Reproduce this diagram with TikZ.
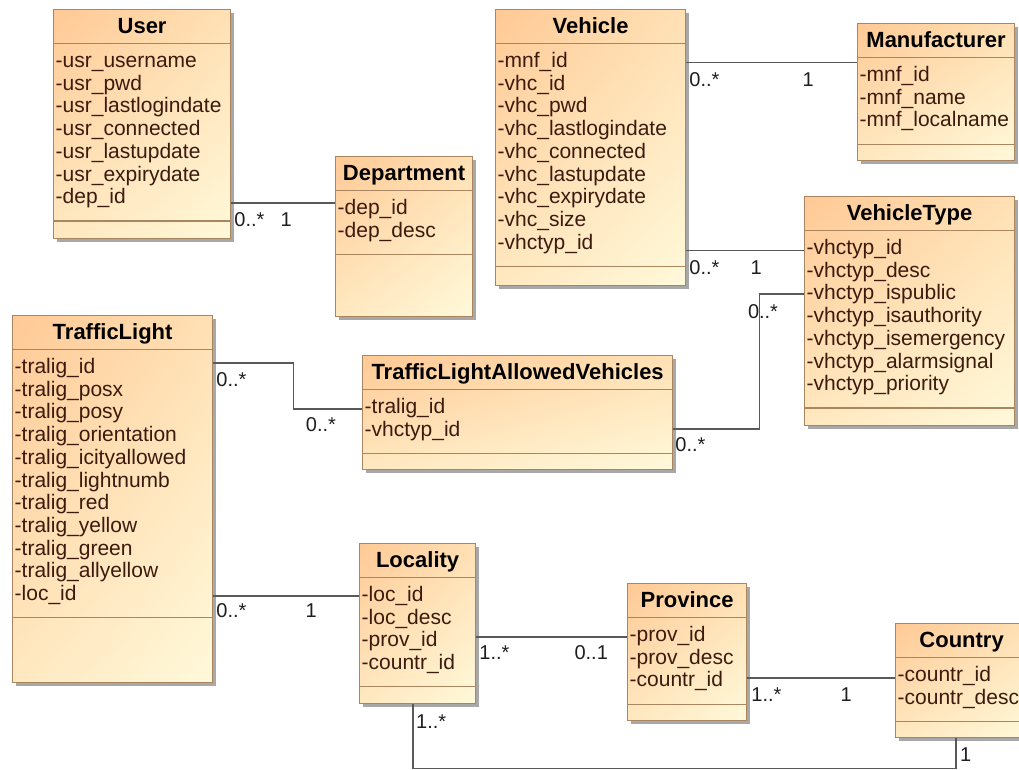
\documentclass[tikz,border=0pt]{standalone}
\usepackage{fontspec}
\setmainfont{Liberation Sans}
\usetikzlibrary{calc,shadows,shadings}

\definecolor{boxline}{HTML}{A9865F}
\definecolor{shadeA}{HTML}{FFC995}
\definecolor{shadeB}{HTML}{FFE0B4}
\definecolor{shadeC}{HTML}{FFE8C0}
\definecolor{shadeD}{HTML}{FFF9DA}
\definecolor{attrtext}{HTML}{3C1A0E}
\definecolor{linkline}{HTML}{595959}
\definecolor{multtext}{HTML}{1E1E1E}
\definecolor{dropcol}{HTML}{A8A8A8}

\tikzset{
  classbox/.style={draw=boxline, line width=1.2pt, anchor=north west, inner sep=0pt,
    shade, upper left=shadeA, upper right=shadeB, lower left=shadeC, lower right=shadeD,
    drop shadow={shadow xshift=3.5pt, shadow yshift=-3.5pt, fill=dropcol, opacity=1}},
  ttl/.style={font=\fontsize{22}{24}\selectfont\bfseries, text=black, inner sep=0pt, anchor=base},
  attr/.style={font=\fontsize{21}{23}\selectfont, text=attrtext, inner sep=0pt, anchor=base west},
  mult/.style={font=\fontsize{20}{22}\selectfont, text=multtext, inner sep=0pt},
  compsep/.style={draw=boxline, line width=1.2pt},
  assoc/.style={draw=linkline, line width=1.4pt},
}

% UML class: name, left, top, width, height, title, number of attributes, attributes
\newcommand\umlbox[8]{%
  \node[classbox, minimum width=#4pt, minimum height=#5pt] (#1) at (#2,#3) {};
  \draw[compsep] ([yshift=-34.5pt]#1.north west) -- ([yshift=-34.5pt]#1.north east);
  \pgfmathsetmacro\opsep{34.5+22.7*#7+18.5}
  \draw[compsep] ([yshift=-\opsep pt]#1.north west) -- ([yshift=-\opsep pt]#1.north east);
  \node[ttl] (#1-title) at ([yshift=-24.5pt]#1.north) {#6};
  \foreach \a [count=\i] in {#8} {
    \pgfmathsetmacro\ybase{58.5+22.7*(\i-1)}
    \node[attr] (#1-attr\i) at ([xshift=2.5pt, yshift=-\ybase pt]#1.north west) {\a};
  }
}

\begin{document}
\begin{tikzpicture}[x=1pt, y=-1pt]
\useasboundingbox (0,0) rectangle (1019,769);
\fill[white] (0,0) rectangle (1019,769);
\clip (0,0) rectangle (1019,769);

% classes
\umlbox{user}{53}{9}{177}{229}{User}{7}{-usr\_username,-usr\_pwd,-usr\_lastlogindate,-usr\_connected,-usr\_lastupdate,-usr\_expirydate,-dep\_id}
\umlbox{dept}{335}{156}{137}{160}{Department}{2}{-dep\_id,-dep\_desc}
\umlbox{vehicle}{495}{9}{190}{276}{Vehicle}{9}{-mnf\_id,-vhc\_id,-vhc\_pwd,-vhc\_lastlogindate,-vhc\_connected,-vhc\_lastupdate,-vhc\_expirydate,-vhc\_size,-vhctyp\_id}
\umlbox{manuf}{857}{23}{157}{137}{Manufacturer}{3}{-mnf\_id,-mnf\_name,-mnf\_localname}
\umlbox{vtype}{804}{196}{210}{229}{VehicleType}{7}{-vhctyp\_id,-vhctyp\_desc,-vhctyp\_ispublic,-vhctyp\_isauthority,-vhctyp\_isemergency,-vhctyp\_alarmsignal,-vhctyp\_priority}
\umlbox{tlav}{362}{355}{310}{114}{TrafficLightAllowedVehicles}{2}{-tralig\_id,-vhctyp\_id}
\umlbox{tlight}{12}{315}{200}{367}{TrafficLight}{11}{-tralig\_id,-tralig\_posx,-tralig\_posy,-tralig\_orientation,-tralig\_icityallowed,-tralig\_lightnumb,-tralig\_red,-tralig\_yellow,-tralig\_green,-tralig\_allyellow,-loc\_id}
\umlbox{locality}{359}{543}{116}{160}{Locality}{4}{-loc\_id,-loc\_desc,-prov\_id,-countr\_id}
\umlbox{province}{627}{583}{119}{137}{Province}{3}{-prov\_id,-prov\_desc,-countr\_id}
\umlbox{country}{895}{623}{132}{114}{Country}{2}{-countr\_id,-countr\_desc}

% association end points
\coordinate (c1) at ([yshift=-194pt]user.north east);
\coordinate (c2) at ([yshift=-53.7pt]vehicle.north east);
\coordinate (c3) at ([yshift=-241.7pt]vehicle.north east);
\coordinate (c4) at ([yshift=-74pt]tlav.north east);
\coordinate (c4b) at ([yshift=-98pt]vtype.north west);
\coordinate (c5) at ([yshift=-48pt]tlight.north east);
\coordinate (c5b) at ([yshift=-54pt]tlav.north west);
\coordinate (c6) at ([yshift=-281pt]tlight.north east);
\coordinate (c7) at ([yshift=-94pt]locality.north east);
\coordinate (c8) at ([yshift=-95pt]province.north east);
\coordinate (c9) at ([xshift=54pt]locality.south west);
\coordinate (c9b) at ([xshift=61pt]country.south west);

% associations
\draw[assoc] (c1) -- (c1 -| dept.west);
\draw[assoc] (c2) -- (c2 -| manuf.west);
\draw[assoc] (c3) -- (c3 -| vtype.west);
\draw[assoc] (c4) -- ++(86pt,0pt) |- (c4b);
\draw[assoc] (c5) -- ++(80pt,0pt) |- (c5b);
\draw[assoc] (c6) -- (c6 -| locality.west);
\draw[assoc] (c7) -- (c7 -| province.west);
\draw[assoc] (c8) -- (c8 -| country.west);
\draw[assoc] (c9) -- ++(0pt,-64pt) -| (c9b);

% multiplicities
\node[mult, anchor=west] (m1a) at ([shift={(3pt,-17pt)}]c1) {0..*};
\node[mult] (m1b) at ([shift={(55pt,-17pt)}]c1) {1};
\node[mult, anchor=west] (m2a) at ([shift={(3pt,-16.5pt)}]c2) {0..*};
\node[mult] (m2b) at ([shift={(122pt,-16.5pt)}]c2) {1};
\node[mult, anchor=west] (m3a) at ([shift={(3pt,-16.5pt)}]c3) {0..*};
\node[mult] (m3b) at ([shift={(70pt,-16.5pt)}]c3) {1};
\node[mult, anchor=west] (m4a) at ([shift={(2pt,-16pt)}]c4) {0..*};
\node[mult] (m4b) at ([shift={(-41pt,-18pt)}]c4b) {0..*};
\node[mult, anchor=west] (m5a) at ([shift={(3pt,-17pt)}]c5) {0..*};
\node[mult] (m5b) at ([shift={(-41pt,-16pt)}]c5b) {0..*};
\node[mult, anchor=west] (m6a) at ([shift={(3pt,-15pt)}]c6) {0..*};
\node[mult] (m6b) at ([shift={(98pt,-15pt)}]c6) {1};
\node[mult, anchor=west] (m7a) at ([shift={(3pt,-16pt)}]c7) {1..*};
\node[mult] (m7b) at ([shift={(115pt,-16pt)}]c7) {0..1};
\node[mult, anchor=west] (m8a) at ([shift={(4pt,-17pt)}]c8) {1..*};
\node[mult] (m8b) at ([shift={(99pt,-17pt)}]c8) {1};
\node[mult, anchor=west] (m9a) at ([shift={(3pt,-17pt)}]c9) {1..*};
\node[mult, anchor=west] (m9b) at ([shift={(4pt,-16pt)}]c9b) {1};
\end{tikzpicture}
\end{document}
